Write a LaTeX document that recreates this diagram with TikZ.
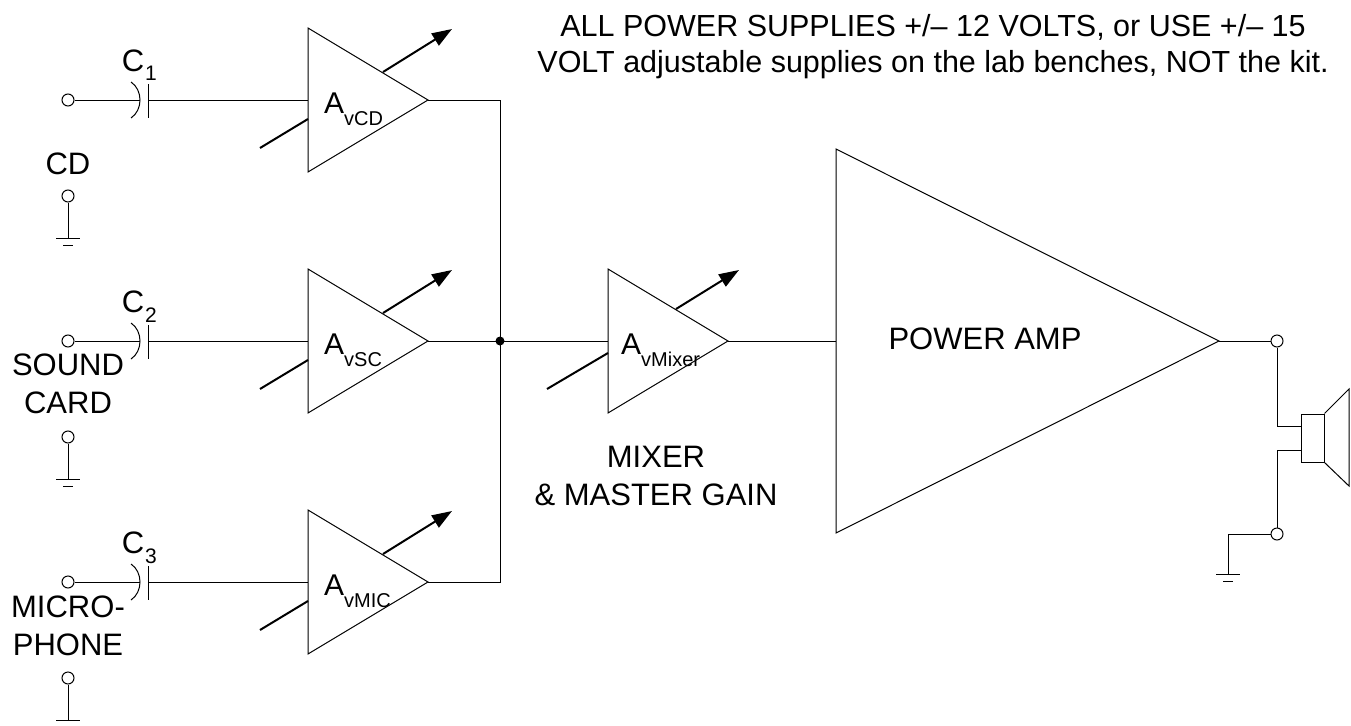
\documentclass[tikz,border=0pt]{standalone}
\usepackage{fontspec}
\setmainfont{Liberation Sans}
\usetikzlibrary{arrows.meta}

\newcommand{\lowsub}[1]{\raisebox{-12pt}{\fontsize{20}{20}\selectfont #1}}

\begin{document}
\begin{tikzpicture}[x=1pt, y=-1pt,
  wire/.style={line width=1pt},
  knob/.style={line width=2pt},
  knobtip/.style={knob, -{Triangle[length=20pt,width=14pt]}},
  term/.style={draw, circle, fill=white, minimum size=12pt, inner sep=0pt, line width=1pt},
  lbl/.style={font=\fontsize{31}{38}\selectfont, align=center, inner sep=0pt},
  gain/.style={anchor=base west, inner sep=0pt, font=\fontsize{30}{30}\selectfont},
  earth/.pic={\draw[wire] (-12,0) -- (12,0) (-5,7) -- (5,7);}]

\useasboundingbox (0,0) rectangle (1351,725);

% three input channels
\foreach \row/\n/\id/\sub in {100/1/cd/vCD, 341/2/sc/vSC, 582/3/mic/vMIC} {
  \node[term] (in-\id) at (68,\row) {};
  \coordinate (capa-\id) at (140,\row);
  \coordinate (capb-\id) at (148,\row);
  \coordinate (amp-\id-in) at (308,\row);
  \coordinate (amp-\id-out) at (428,\row);
  \draw[wire] (in-\id) -- (capa-\id);
  \draw[wire] (131,\row-18) .. controls (143,\row-10) and (143,\row+10) .. (131,\row+18);
  \draw[wire] (148,\row-16) -- (148,\row+18);
  \draw[wire] (capb-\id) -- (amp-\id-in);
  \node[lbl, anchor=base] (c-\id) at (133,\row-29) {C};
  \node[anchor=base, inner sep=0pt, font=\fontsize{21}{21}\selectfont] (cn-\id) at (151,\row-19) {\n};
  % amplifier
  \draw[wire] (308,\row-72) -- (308,\row+72) -- (amp-\id-out) -- cycle;
  \draw[knob] (260,\row+48) -- (308,\row+19);
  \draw[knobtip] (383,\row-28) -- (452,\row-71);
  \node[gain] (a-\id) at (324,\row+13) {A\lowsub{\sub}};
  % ground terminal
  \node[term] (gnd-\id) at (68,\row+96) {};
  \coordinate (gl-\id) at (68,\row+138);
  \draw[wire] (gnd-\id) -- (gl-\id);
  \pic at (gl-\id) {earth};
}

\node[lbl] (cd-lbl) at (68,164) {CD};
\node[lbl] (sc-lbl) at (68,384) {SOUND\\CARD};
\node[lbl] (mic-lbl) at (68,626) {MICRO-\\PHONE};

% summing bus
\coordinate (bus-top) at (500,100);
\coordinate (bus-mid) at (500,341);
\coordinate (bus-bot) at (500,582);
\coordinate (mix-in) at (608,341);
\coordinate (mix-out) at (728,341);
\draw[wire] (amp-cd-out) -- (bus-top) -- (bus-bot) -- (amp-mic-out);
\draw[wire] (amp-sc-out) -- (mix-in);
\fill (bus-mid) circle (4.5);

% mixer
\draw[wire] (608,269) -- (608,413) -- (mix-out) -- cycle;
\draw[knob] (547,389) -- (608,353);
\draw[knobtip] (676,309) -- (739,270);
\node[gain] (a-mix) at (621,354) {A\lowsub{vMixer}};
\node[lbl] (mix-lbl) at (656,476) {MIXER\\\& MASTER GAIN};

% power amp
\coordinate (pa-in) at (836,341);
\coordinate (pa-out) at (1219,341);
\draw[wire] (mix-out) -- (pa-in);
\draw[wire] (836,149) -- (836,533) -- (pa-out) -- cycle;
\node[lbl] (pa-lbl) at (985,339) {POWER AMP};

% speaker output
\node[term] (out-hot) at (1277,341) {};
\node[term] (out-gnd) at (1277,534) {};
\node[draw, line width=1pt, minimum width=23pt, minimum height=48pt, inner sep=0pt] (spk) at (1312.5,438) {};
\draw[wire] (spk.north east) -- (1349,389) -- (1349,486) -- (spk.south east);
\draw[wire] (pa-out) -- (out-hot);
\draw[wire] (out-hot) |- ([yshift=12pt]spk.west);
\draw[wire] (out-gnd) |- ([yshift=-12pt]spk.west);
\coordinate (gl-spk) at (1228,574);
\draw[wire] (out-gnd) -| (gl-spk);
\pic at (gl-spk) {earth};

\node[lbl, font=\fontsize{30.5}{36}\selectfont] (note) at (933,47)
  {ALL POWER SUPPLIES +/– 12 VOLTS, or USE +/– 15\\VOLT adjustable supplies on the lab benches, NOT the kit.};
\end{tikzpicture}
\end{document}
